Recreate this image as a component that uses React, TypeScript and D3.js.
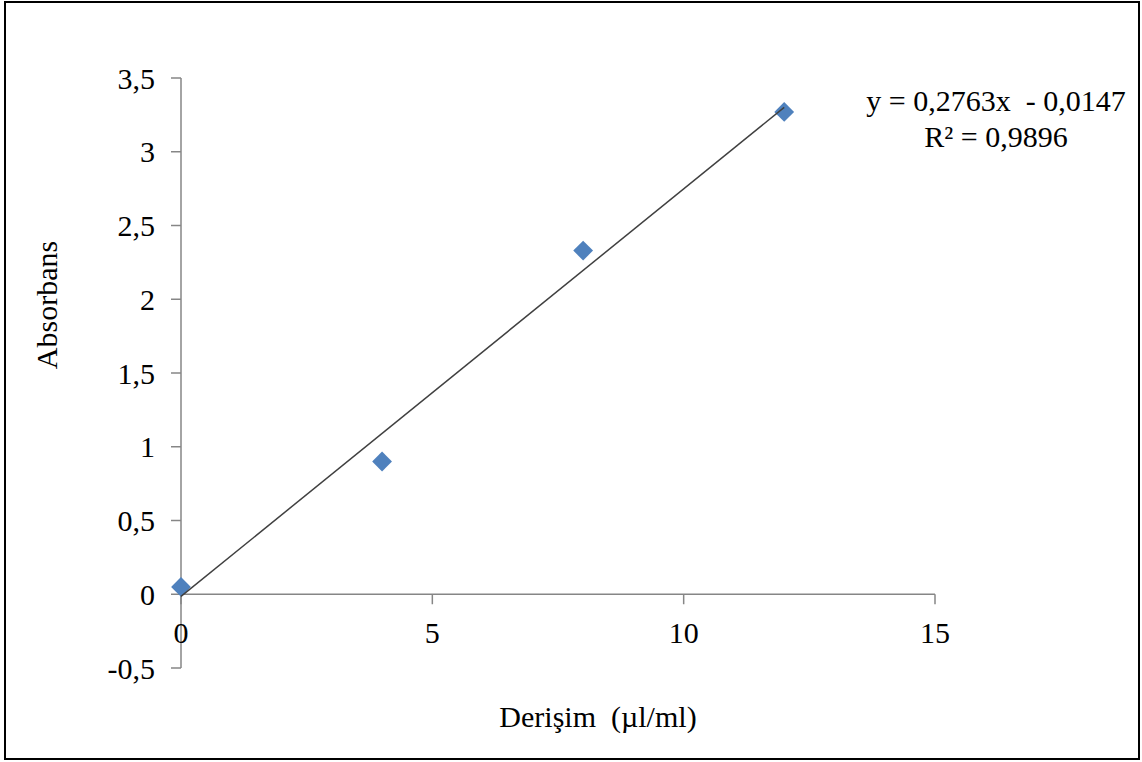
import React from 'react';
import * as d3 from 'd3';

const concentrations = [0, 4, 8, 12];
const absorbances = [0.05, 0.9, 2.33, 3.27];
const slope = 0.2763;
const intercept = -0.0147;
const yTicks = [-0.5, 0, 0.5, 1, 1.5, 2, 2.5, 3, 3.5];
const xTicks = [0, 5, 10, 15];
const equationText = 'y = 0,2763x  - 0,0147';
const r2Text = 'R² = 0,9896';

const W = 1142;
const H = 762;
const FONT = '"Liberation Serif", "Times New Roman", serif';
const FS = 30;
const AXIS = '#868686';
const MARKER = '#4F81BD';

const fmt = (v: number) => String(v).replace('.', ',');

export default function App() {
  const x = d3.scaleLinear().domain([0, 15]).range([181, 935]);
  const y = d3.scaleLinear().domain([-0.5, 3.5]).range([668, 78]);

  const points = concentrations.map((c, i) => ({ c, a: absorbances[i] }));
  const trend = d3
    .line<number>()
    .x(d => x(d))
    .y(d => y(slope * d + intercept));

  const diamond = d3.symbol().type(d3.symbolDiamond2).size(250)();

  return (
    <div style={{ position: 'absolute', left: 0, top: 0 }}>
      <svg width={W} height={H} style={{ display: 'block' }}>
        <rect x={0} y={0} width={W} height={H} fill="#fff" />
        <rect x={5} y={2} width={1134} height={757} fill="none" stroke="#000" strokeWidth={2} />

        {/* y axis */}
        <line x1={x(0)} x2={x(0)} y1={y(3.5)} y2={y(-0.5)} stroke={AXIS} strokeWidth={1.5} />
        {yTicks.map(t => (
          <g key={t}>
            <line x1={x(0) - 10} x2={x(0)} y1={y(t)} y2={y(t)} stroke={AXIS} strokeWidth={1.5} />
            <text
              x={155}
              y={y(t)}
              dy="0.35em"
              textAnchor="end"
              fontFamily={FONT}
              fontSize={FS}
              fill="#000"
            >
              {fmt(t)}
            </text>
          </g>
        ))}

        {/* x axis */}
        <line x1={x(0)} x2={x(15)} y1={y(0)} y2={y(0)} stroke={AXIS} strokeWidth={1.5} />
        {xTicks.map(t => (
          <g key={t}>
            <line x1={x(t)} x2={x(t)} y1={y(0)} y2={y(0) + 10} stroke={AXIS} strokeWidth={1.5} />
            <text
              x={x(t)}
              y={643}
              textAnchor="middle"
              fontFamily={FONT}
              fontSize={FS}
              fill="#000"
            >
              {t}
            </text>
          </g>
        ))}

        {/* markers */}
        {points.map(p => (
          <path
            key={p.c}
            d={diamond || ''}
            transform={`translate(${x(p.c)},${y(p.a)})`}
            fill={MARKER}
          />
        ))}

        {/* trendline */}
        <path d={trend([0, 12]) || ''} fill="none" stroke="#404040" strokeWidth={1.5} />

        <text x={996} y={111} textAnchor="middle" fontFamily={FONT} fontSize={FS} fill="#000" style={{ whiteSpace: 'pre' }}>
          {equationText}
        </text>
        <text x={996} y={147} textAnchor="middle" fontFamily={FONT} fontSize={FS} fill="#000">
          {r2Text}
        </text>

        <text
          x={598}
          y={727}
          textAnchor="middle"
          fontFamily={FONT}
          fontSize={FS}
          fill="#000"
          style={{ whiteSpace: 'pre' }}
        >
          {'Derişim  (µl/ml)'}
        </text>
        <text
          transform={`translate(57,305) rotate(-90)`}
          textAnchor="middle"
          fontFamily={FONT}
          fontSize={FS}
          fill="#000"
        >
          Absorbans
        </text>
      </svg>
    </div>
  );
}
